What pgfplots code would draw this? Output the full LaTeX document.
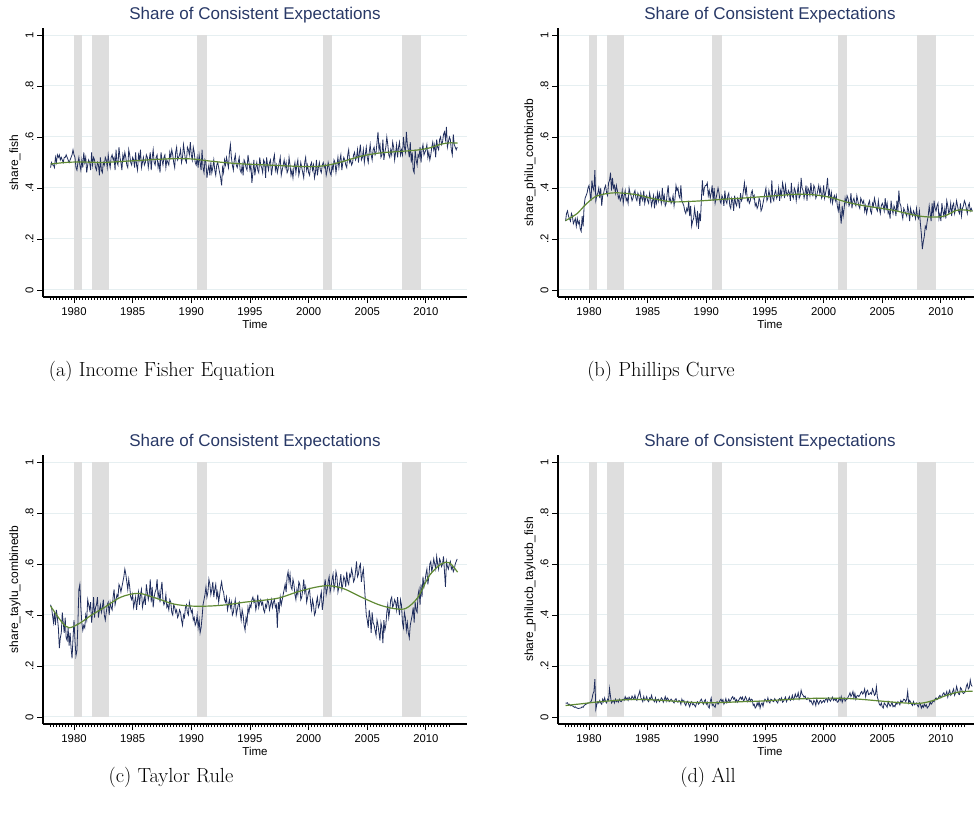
\documentclass[border=0pt]{standalone}
\usepackage{fontspec}
\usepackage{pgfplots}
\pgfplotsset{compat=1.18}
\usepackage{pgfplotstable}
\newfontfamily\arial{Liberation Sans}
\definecolor{lnavy}{RGB}{32,46,94}
\definecolor{ttl}{RGB}{40,56,102}
\definecolor{lgreen}{RGB}{96,138,52}
\definecolor{rec}{RGB}{222,222,222}
\definecolor{grd}{RGB}{230,239,241}

\pgfplotstableread{
a b c d
0.48 0.27 0.44 0.055
0.50 0.30 0.43 0.054
0.49 0.31 0.40 0.056
0.49 0.29 0.37 0.048
0.48 0.28 0.41 0.050
0.52 0.27 0.36 0.044
0.50 0.30 0.42 0.046
0.53 0.29 0.39 0.043
0.52 0.26 0.35 0.042
0.53 0.27 0.27 0.038
0.51 0.28 0.31 0.040
0.52 0.25 0.33 0.036
0.51 0.28 0.41 0.035
0.50 0.26 0.37 0.033
0.52 0.27 0.33 0.034
0.52 0.24 0.39 0.035
0.53 0.23 0.31 0.036
0.52 0.29 0.30 0.040
0.51 0.25 0.35 0.038
0.50 0.33 0.28 0.045
0.51 0.36 0.33 0.048
0.52 0.37 0.27 0.050
0.53 0.38 0.23 0.052
0.55 0.40 0.31 0.055
0.53 0.41 0.38 0.055
0.52 0.38 0.30 0.058
0.48 0.35 0.24 0.060
0.47 0.43 0.26 0.070
0.50 0.40 0.37 0.090
0.52 0.39 0.50 0.100
0.49 0.47 0.52 0.148
0.47 0.35 0.43 0.030
0.51 0.37 0.37 0.050
0.48 0.38 0.34 0.060
0.54 0.40 0.36 0.055
0.50 0.36 0.35 0.065
0.52 0.40 0.40 0.055
0.46 0.33 0.38 0.050
0.49 0.37 0.46 0.070
0.51 0.38 0.44 0.060
0.50 0.40 0.42 0.075
0.47 0.41 0.45 0.060
0.54 0.38 0.37 0.055
0.49 0.37 0.41 0.070
0.52 0.42 0.47 0.065
0.51 0.43 0.39 0.112
0.48 0.46 0.43 0.080
0.47 0.39 0.44 0.055
0.50 0.44 0.47 0.060
0.49 0.40 0.39 0.065
0.45 0.41 0.42 0.055
0.52 0.38 0.44 0.070
0.47 0.41 0.41 0.060
0.46 0.39 0.43 0.066
0.50 0.36 0.46 0.058
0.49 0.37 0.40 0.070
0.52 0.35 0.38 0.062
0.51 0.36 0.41 0.060
0.48 0.39 0.44 0.068
0.53 0.34 0.45 0.070
0.50 0.37 0.40 0.065
0.48 0.39 0.45 0.080
0.52 0.35 0.43 0.070
0.53 0.36 0.42 0.075
0.51 0.34 0.47 0.065
0.52 0.40 0.50 0.078
0.47 0.38 0.44 0.072
0.55 0.37 0.46 0.068
0.50 0.35 0.48 0.082
0.49 0.36 0.47 0.075
0.56 0.38 0.52 0.070
0.52 0.39 0.51 0.085
0.50 0.36 0.49 0.070
0.47 0.35 0.51 0.065
0.53 0.38 0.53 0.080
0.51 0.37 0.55 0.090
0.54 0.33 0.58 0.103
0.52 0.38 0.56 0.075
0.49 0.36 0.53 0.070
0.48 0.35 0.50 0.060
0.55 0.39 0.54 0.080
0.53 0.34 0.51 0.065
0.50 0.36 0.47 0.070
0.49 0.37 0.46 0.080
0.52 0.35 0.48 0.065
0.51 0.34 0.43 0.060
0.48 0.38 0.45 0.075
0.54 0.36 0.47 0.070
0.49 0.33 0.42 0.085
0.47 0.35 0.46 0.070
0.53 0.37 0.49 0.065
0.51 0.32 0.44 0.060
0.55 0.36 0.48 0.075
0.48 0.34 0.50 0.058
0.50 0.38 0.43 0.068
0.52 0.35 0.45 0.070
0.49 0.38 0.47 0.060
0.50 0.36 0.44 0.065
0.53 0.34 0.52 0.075
0.52 0.40 0.49 0.070
0.48 0.35 0.46 0.058
0.51 0.37 0.48 0.068
0.54 0.33 0.54 0.080
0.47 0.34 0.45 0.062
0.52 0.38 0.51 0.075
0.55 0.41 0.43 0.070
0.50 0.35 0.47 0.060
0.49 0.36 0.49 0.065
0.52 0.34 0.50 0.070
0.53 0.35 0.54 0.065
0.48 0.37 0.47 0.060
0.50 0.33 0.49 0.055
0.46 0.36 0.45 0.068
0.54 0.41 0.50 0.072
0.51 0.39 0.53 0.060
0.49 0.40 0.46 0.058
0.52 0.37 0.44 0.065
0.53 0.36 0.45 0.062
0.48 0.41 0.48 0.050
0.51 0.35 0.43 0.070
0.50 0.34 0.44 0.060
0.49 0.33 0.42 0.065
0.54 0.31 0.46 0.052
0.52 0.30 0.45 0.045
0.55 0.32 0.41 0.058
0.53 0.31 0.40 0.062
0.50 0.35 0.44 0.050
0.48 0.29 0.43 0.040
0.54 0.33 0.41 0.055
0.56 0.25 0.42 0.060
0.51 0.27 0.39 0.048
0.52 0.28 0.40 0.052
0.53 0.32 0.42 0.045
0.55 0.29 0.41 0.040
0.50 0.26 0.38 0.055
0.52 0.31 0.36 0.060
0.57 0.24 0.40 0.050
0.54 0.30 0.39 0.055
0.51 0.27 0.43 0.065
0.50 0.36 0.44 0.070
0.56 0.43 0.41 0.058
0.55 0.37 0.40 0.050
0.53 0.40 0.45 0.062
0.58 0.41 0.43 0.068
0.53 0.41 0.41 0.050
0.51 0.42 0.42 0.058
0.56 0.37 0.38 0.040
0.54 0.39 0.39 0.035
0.50 0.36 0.36 0.060
0.49 0.38 0.37 0.075
0.52 0.41 0.40 0.045
0.48 0.35 0.35 0.050
0.53 0.40 0.38 0.042
0.50 0.34 0.33 0.038
0.47 0.36 0.35 0.055
0.55 0.38 0.39 0.060
0.48 0.40 0.44 0.050
0.46 0.38 0.46 0.055
0.51 0.35 0.48 0.065
0.50 0.34 0.51 0.070
0.44 0.37 0.47 0.060
0.47 0.36 0.49 0.068
0.49 0.33 0.54 0.050
0.45 0.39 0.52 0.058
0.50 0.35 0.48 0.072
0.46 0.34 0.50 0.055
0.48 0.37 0.53 0.060
0.51 0.38 0.47 0.070
0.47 0.33 0.50 0.060
0.45 0.32 0.52 0.065
0.49 0.36 0.47 0.075
0.50 0.35 0.49 0.080
0.48 0.31 0.45 0.070
0.46 0.37 0.48 0.075
0.44 0.34 0.51 0.060
0.41 0.33 0.53 0.068
0.48 0.36 0.50 0.058
0.46 0.35 0.49 0.065
0.51 0.32 0.46 0.072
0.49 0.38 0.45 0.078
0.52 0.35 0.47 0.070
0.50 0.36 0.42 0.078
0.48 0.39 0.44 0.062
0.54 0.42 0.46 0.068
0.57 0.38 0.43 0.080
0.52 0.40 0.45 0.072
0.49 0.35 0.40 0.060
0.47 0.36 0.41 0.065
0.51 0.34 0.44 0.075
0.53 0.35 0.46 0.062
0.49 0.38 0.40 0.070
0.48 0.39 0.42 0.068
0.50 0.36 0.44 0.045
0.52 0.37 0.45 0.050
0.47 0.33 0.41 0.035
0.46 0.34 0.38 0.040
0.49 0.32 0.42 0.055
0.45 0.33 0.40 0.045
0.51 0.36 0.36 0.060
0.50 0.35 0.34 0.035
0.48 0.31 0.39 0.050
0.47 0.32 0.37 0.055
0.53 0.34 0.43 0.042
0.50 0.36 0.41 0.060
0.47 0.38 0.44 0.070
0.49 0.40 0.43 0.065
0.42 0.35 0.46 0.058
0.46 0.36 0.47 0.075
0.51 0.39 0.45 0.060
0.45 0.37 0.46 0.055
0.48 0.34 0.42 0.070
0.50 0.43 0.44 0.068
0.47 0.36 0.48 0.062
0.46 0.35 0.43 0.060
0.52 0.38 0.45 0.072
0.49 0.39 0.46 0.065
0.48 0.36 0.44 0.060
0.46 0.37 0.45 0.055
0.51 0.40 0.42 0.068
0.50 0.35 0.41 0.072
0.44 0.39 0.44 0.065
0.52 0.37 0.43 0.075
0.49 0.42 0.46 0.058
0.47 0.40 0.45 0.062
0.50 0.36 0.42 0.070
0.51 0.41 0.44 0.078
0.45 0.38 0.46 0.060
0.48 0.37 0.43 0.068
0.51 0.39 0.45 0.072
0.53 0.38 0.46 0.080
0.47 0.35 0.43 0.065
0.49 0.42 0.44 0.070
0.46 0.37 0.35 0.085
0.48 0.36 0.45 0.068
0.50 0.40 0.42 0.075
0.52 0.39 0.47 0.090
0.45 0.35 0.44 0.078
0.47 0.38 0.46 0.080
0.49 0.41 0.48 0.095
0.51 0.36 0.50 0.070
0.48 0.37 0.52 0.080
0.50 0.44 0.49 0.105
0.46 0.40 0.55 0.090
0.47 0.39 0.57 0.085
0.52 0.36 0.53 0.078
0.49 0.38 0.56 0.082
0.45 0.41 0.51 0.070
0.47 0.35 0.50 0.068
0.44 0.40 0.54 0.075
0.48 0.39 0.52 0.070
0.50 0.37 0.48 0.060
0.46 0.42 0.46 0.065
0.49 0.38 0.50 0.055
0.51 0.37 0.48 0.048
0.45 0.41 0.53 0.065
0.47 0.40 0.52 0.060
0.50 0.36 0.46 0.045
0.48 0.37 0.47 0.070
0.46 0.39 0.50 0.058
0.44 0.41 0.54 0.050
0.50 0.38 0.49 0.062
0.52 0.40 0.51 0.065
0.47 0.36 0.45 0.055
0.49 0.37 0.47 0.060
0.46 0.41 0.49 0.065
0.45 0.36 0.50 0.058
0.49 0.38 0.45 0.070
0.50 0.40 0.42 0.072
0.47 0.44 0.46 0.060
0.49 0.37 0.44 0.075
0.44 0.39 0.40 0.068
0.46 0.35 0.41 0.062
0.51 0.38 0.45 0.070
0.45 0.34 0.47 0.078
0.48 0.36 0.43 0.065
0.50 0.37 0.44 0.072
0.47 0.35 0.47 0.065
0.46 0.37 0.49 0.070
0.49 0.33 0.42 0.058
0.50 0.31 0.45 0.060
0.48 0.34 0.51 0.075
0.49 0.30 0.54 0.065
0.45 0.26 0.48 0.080
0.47 0.33 0.50 0.058
0.50 0.29 0.53 0.070
0.48 0.32 0.55 0.075
0.46 0.36 0.49 0.062
0.45 0.34 0.51 0.068
0.49 0.37 0.54 0.070
0.47 0.36 0.56 0.078
0.51 0.33 0.50 0.085
0.50 0.34 0.52 0.095
0.46 0.38 0.57 0.080
0.49 0.32 0.55 0.088
0.52 0.35 0.49 0.100
0.48 0.36 0.51 0.075
0.51 0.34 0.53 0.092
0.53 0.33 0.56 0.070
0.47 0.37 0.50 0.082
0.50 0.35 0.52 0.085
0.52 0.33 0.55 0.080
0.51 0.32 0.54 0.085
0.49 0.36 0.51 0.095
0.48 0.35 0.57 0.100
0.53 0.34 0.53 0.090
0.55 0.35 0.52 0.095
0.50 0.31 0.56 0.110
0.51 0.33 0.55 0.080
0.49 0.30 0.58 0.100
0.50 0.32 0.56 0.105
0.53 0.34 0.53 0.088
0.54 0.35 0.54 0.090
0.51 0.31 0.57 0.095
0.52 0.30 0.61 0.090
0.55 0.34 0.55 0.110
0.50 0.33 0.56 0.100
0.54 0.36 0.59 0.085
0.57 0.34 0.60 0.090
0.51 0.32 0.53 0.119
0.52 0.31 0.56 0.078
0.55 0.35 0.58 0.065
0.50 0.32 0.52 0.050
0.53 0.30 0.46 0.045
0.56 0.33 0.40 0.055
0.52 0.34 0.38 0.040
0.50 0.33 0.35 0.035
0.54 0.31 0.42 0.055
0.57 0.36 0.39 0.050
0.53 0.32 0.33 0.045
0.51 0.34 0.41 0.038
0.55 0.30 0.37 0.060
0.56 0.31 0.36 0.050
0.53 0.28 0.34 0.042
0.54 0.35 0.32 0.048
0.58 0.32 0.38 0.058
0.62 0.30 0.36 0.040
0.55 0.33 0.33 0.045
0.57 0.32 0.30 0.040
0.52 0.29 0.37 0.055
0.53 0.35 0.35 0.050
0.59 0.31 0.29 0.060
0.51 0.39 0.38 0.055
0.54 0.34 0.34 0.048
0.56 0.33 0.36 0.065
0.60 0.30 0.41 0.058
0.57 0.28 0.44 0.062
0.53 0.32 0.39 0.070
0.52 0.31 0.42 0.068
0.55 0.30 0.46 0.060
0.53 0.29 0.47 0.070
0.58 0.33 0.43 0.100
0.56 0.31 0.44 0.055
0.51 0.27 0.46 0.065
0.54 0.32 0.45 0.058
0.57 0.30 0.42 0.050
0.52 0.29 0.47 0.045
0.56 0.31 0.43 0.060
0.58 0.30 0.40 0.048
0.53 0.28 0.46 0.052
0.55 0.32 0.44 0.055
0.53 0.29 0.37 0.045
0.60 0.28 0.35 0.040
0.56 0.31 0.41 0.055
0.54 0.26 0.39 0.050
0.62 0.22 0.34 0.035
0.57 0.16 0.37 0.045
0.55 0.19 0.33 0.038
0.52 0.21 0.31 0.050
0.58 0.25 0.36 0.042
0.50 0.24 0.38 0.048
0.54 0.27 0.40 0.035
0.47 0.29 0.43 0.040
0.46 0.33 0.37 0.045
0.55 0.30 0.45 0.060
0.51 0.27 0.42 0.050
0.49 0.34 0.41 0.055
0.53 0.29 0.48 0.065
0.52 0.35 0.50 0.060
0.56 0.32 0.44 0.070
0.50 0.31 0.52 0.075
0.55 0.33 0.47 0.068
0.57 0.34 0.55 0.072
0.53 0.28 0.51 0.080
0.54 0.30 0.53 0.085
0.55 0.27 0.56 0.075
0.57 0.34 0.58 0.080
0.52 0.31 0.52 0.090
0.54 0.29 0.55 0.095
0.51 0.32 0.60 0.085
0.53 0.28 0.61 0.088
0.56 0.35 0.57 0.100
0.58 0.33 0.59 0.078
0.55 0.30 0.62 0.095
0.57 0.31 0.60 0.105
0.52 0.34 0.58 0.085
0.59 0.29 0.63 0.090
0.56 0.33 0.60 0.100
0.55 0.34 0.58 0.110
0.59 0.30 0.62 0.085
0.60 0.32 0.61 0.095
0.57 0.35 0.59 0.120
0.58 0.33 0.60 0.105
0.61 0.31 0.63 0.090
0.62 0.30 0.57 0.088
0.59 0.34 0.51 0.115
0.64 0.29 0.61 0.110
0.56 0.32 0.59 0.098
0.58 0.33 0.58 0.092
0.60 0.35 0.60 0.095
0.59 0.34 0.61 0.100
0.55 0.32 0.58 0.120
0.53 0.30 0.59 0.130
0.61 0.33 0.57 0.110
0.57 0.34 0.58 0.115
0.56 0.31 0.60 0.145
0.55 0.32 0.61 0.125
0.56 0.31 0.62 0.120
}\monthly

\pgfplotstableread{
x a b c d
1978 0.494 0.272 0.435 0.045
1979 0.499 0.300 0.370 0.050
1979.6 0.501 0.330 0.350 0.053
1980.5 0.502 0.365 0.368 0.058
1981.5 0.501 0.378 0.400 0.062
1982.5 0.500 0.381 0.427 0.066
1984 0.504 0.374 0.470 0.069
1985.5 0.508 0.358 0.485 0.067
1987 0.512 0.346 0.466 0.063
1988.5 0.515 0.347 0.443 0.058
1990 0.514 0.351 0.435 0.056
1991.5 0.506 0.356 0.435 0.057
1993 0.499 0.360 0.440 0.060
1994.5 0.494 0.365 0.450 0.062
1996 0.491 0.370 0.457 0.066
1997.5 0.488 0.375 0.467 0.070
1999 0.485 0.374 0.490 0.073
2000.5 0.484 0.364 0.508 0.074
2001.7 0.490 0.348 0.515 0.073
2003 0.505 0.334 0.503 0.070
2004.5 0.525 0.323 0.470 0.064
2006 0.537 0.312 0.440 0.058
2007.3 0.542 0.298 0.425 0.054
2008.3 0.545 0.289 0.426 0.054
2009.3 0.549 0.286 0.468 0.064
2010.3 0.557 0.290 0.555 0.082
2011.3 0.572 0.312 0.600 0.096
2012.0 0.577 0.314 0.605 0.100
2012.7 0.576 0.309 0.568 0.101
}\smoothed

\pgfplotsset{
  panel/.style={
    scale only axis, width=424pt, height=269pt,
    xmin=1977.357, xmax=2013.503, ymin=-0.0275, ymax=1.0275,
    axis lines*=left,
    axis line style={line width=1.1pt, black},
    xtick={1980,1985,1990,1995,2000,2005,2010},
    xticklabels={1980,1985,1990,1995,2000,2005,2010},
    minor xtick={1978,1978.25,...,2012},
    ytick={0,0.2,0.4,0.6,0.8,1},
    yticklabels={0,.2,.4,.6,.8,1},
    tick align=outside, major tick length=6pt, minor tick length=3pt,
    every tick/.style={line width=0.9pt, black},
    ymajorgrids, grid style={line width=1pt, grd},
    tick label style={font=\arial\fontsize{11.3}{13}\selectfont, black},
    xticklabel style={yshift=-1pt},
    yticklabel style={rotate=90, anchor=south},
    title={Share of Consistent Expectations},
    title style={font=\arial\fontsize{17}{20}\selectfont, text=ttl,
      at={(axis description cs:0.5,1)}, anchor=center, yshift=7pt},
    xlabel={Time},
    every axis x label/.style={at={(axis description cs:0.5,0)}, anchor=center,
      yshift=-27pt, font=\arial\fontsize{11.5}{13}\selectfont},
    every axis y label/.style={at={(axis description cs:0,0.5)}, rotate=90,
      anchor=center, yshift=28pt, font=\arial\fontsize{12}{14}\selectfont},
  },
  navyline/.style={lnavy, line width=0.8pt},
  greenline/.style={lgreen, line width=1.2pt, smooth},
  recbar/.style={draw=none, fill=rec, forget plot},
}

\newcommand{\recessions}{%
  \addplot[recbar] coordinates {(1980,0) (1980,1) (1980.65,1) (1980.65,0)} -- cycle;
  \addplot[recbar] coordinates {(1981.5,0) (1981.5,1) (1983.0,1) (1983.0,0)} -- cycle;
  \addplot[recbar] coordinates {(1990.5,0) (1990.5,1) (1991.33,1) (1991.33,0)} -- cycle;
  \addplot[recbar] coordinates {(2001.2,0) (2001.2,1) (2002.0,1) (2002.0,0)} -- cycle;
  \addplot[recbar] coordinates {(2007.95,0) (2007.95,1) (2009.55,1) (2009.55,0)} -- cycle;
}

\begin{document}
\begin{tikzpicture}[x=1pt,y=1pt]
\useasboundingbox (0,0) rectangle (974,819);
\clip (0,0) rectangle (974,819);

\begin{axis}[panel, at={(43pt,522pt)}, anchor=south west, ylabel={share\_fish}]
  \recessions
  \addplot[navyline] table[x expr={1978+\coordindex/12}, y=a] {\monthly};
  \addplot[greenline] table[x=x, y=a] {\smoothed};
\end{axis}

\begin{axis}[panel, at={(558pt,522pt)}, anchor=south west, ylabel={share\_philu\_combinedb}]
  \recessions
  \addplot[navyline] table[x expr={1978+\coordindex/12}, y=b] {\monthly};
  \addplot[greenline] table[x=x, y=b] {\smoothed};
\end{axis}

\begin{axis}[panel, at={(43pt,95pt)}, anchor=south west, ylabel={share\_taylu\_combinedb}]
  \recessions
  \addplot[navyline] table[x expr={1978+\coordindex/12}, y=c] {\monthly};
  \addplot[greenline] table[x=x, y=c] {\smoothed};
\end{axis}

\begin{axis}[panel, at={(558pt,95pt)}, anchor=south west, ylabel={share\_philucb\_taylucb\_fish}]
  \recessions
  \addplot[navyline] table[x expr={1978+\coordindex/12}, y=d] {\monthly};
  \addplot[greenline] table[x=x, y=d] {\smoothed};
\end{axis}

\begin{scope}[font=\fontsize{20.4}{24}\selectfont]
\node at (162,448) {(a) Income Fisher Equation};
\node at (661,448) {(b) Phillips Curve};
\node at (171,42) {(c) Taylor Rule};
\node at (708,42) {(d) All};
\end{scope}
\end{tikzpicture}
\end{document}
